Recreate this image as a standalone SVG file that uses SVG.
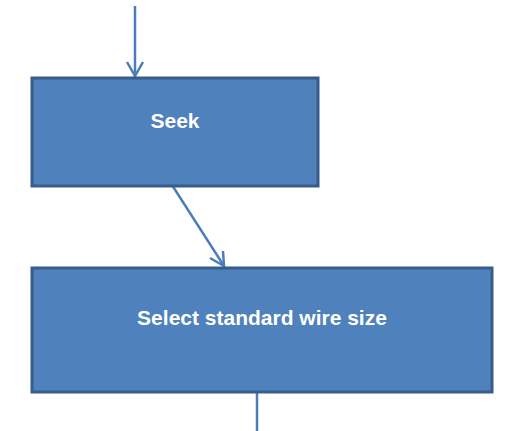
<svg xmlns="http://www.w3.org/2000/svg" width="512" height="431" viewBox="0 0 512 431">
<style>
.box{fill:#4f81bd;stroke:#385d8a;stroke-width:3}
.lbl{fill:#ffffff;font-family:"Liberation Sans",Arial,sans-serif;font-weight:bold;font-size:21px;text-anchor:middle}
.conn{stroke:#4a7ebb;stroke-width:2.5;fill:none}
</style>
<rect width="512" height="431" fill="#ffffff"/>
<g id="connectors">
<line class="conn" x1="135" y1="6" x2="135" y2="77"/>
<polyline class="conn" points="127,62 135,76 143,62"/>
<line class="conn" x1="172" y1="185" x2="224" y2="266"/>
<polyline class="conn" points="210,258 224,266 223,251"/>
<line class="conn" x1="257" y1="393" x2="257" y2="431"/>
</g>
<g id="node-seek">
<rect class="box" x="32" y="78" width="286" height="108"/>
<text class="lbl" x="175" y="128">Seek</text>
</g>
<g id="node-select">
<rect class="box" x="32" y="268" width="460" height="124"/>
<text class="lbl" x="262" y="325">Select standard wire size</text>
</g>
</svg>
